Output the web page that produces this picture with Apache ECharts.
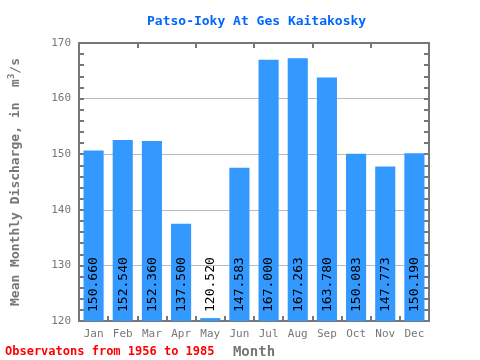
<!DOCTYPE html>
<html><head><meta charset="utf-8">
<script src="https://cdn.jsdelivr.net/npm/echarts@6/dist/echarts.min.js"></script>
<style>html,body{margin:0;padding:0;background:#fff}#c{width:480px;height:360px}</style>
</head><body><div id="c"></div>
<script>
const months = ['Jan','Feb','Mar','Apr','May','Jun','Jul','Aug','Sep','Oct','Nov','Dec'];
const discharge = [150.660,152.540,152.360,137.500,120.520,147.583,167.000,167.263,163.780,150.083,147.773,150.190];
const valueLabels = ['150.660','152.540','152.360','137.500','120.520','147.583','167.000','167.263','163.780','150.083','147.773','150.190'];
const yMin = 120, yMax = 170, yStep = 10;
const titleText = 'Patso-Ioky At Ges Kaitakosky';
const footerText = 'Observatons from 1956 to 1985';

const FONT = 'DejaVu Sans Mono';
const GRAY = '#777';
const chart = echarts.init(document.getElementById('c'), null, {renderer:'canvas'});
const axisLine = {show:true, lineStyle:{color:GRAY, width:2}};
chart.setOption({
  animation:false,
  backgroundColor:'#fff',
  title:{text:titleText, left:142, top:10,
    textStyle:{fontFamily:FONT, fontSize:13, fontWeight:'bold', color:'#0066ff'}},
  graphic:[{type:'text', left:5, top:346,
    style:{text:footerText, font:'bold 12px "'+FONT+'"', fill:'#ff0000'}}],
  grid:{left:79, right:51, top:43, bottom:39, containLabel:false, outerBoundsMode:'none'},
  xAxis:[{
    type:'category', data:months, position:'bottom',
    axisLine:axisLine,
    axisTick:{show:true, inside:true, length:5, lineStyle:{color:GRAY, width:2}},
    axisLabel:{fontFamily:FONT, fontSize:11, color:GRAY, margin:8},
    name:'Month', nameLocation:'middle', nameGap:21,
    nameTextStyle:{fontFamily:FONT, fontSize:14, color:GRAY, fontWeight:'bold'}
  },{
    type:'category', data:months, position:'top',
    axisLine:axisLine,
    axisTick:{show:true, inside:true, length:5, lineStyle:{color:GRAY, width:2}},
    axisLabel:{show:false}
  }],
  yAxis:[{
    type:'value', min:yMin, max:yMax, interval:yStep, position:'left',
    axisLine:axisLine,
    axisTick:{show:true, inside:true, length:5, lineStyle:{color:GRAY, width:2}},
    minorTick:{show:true, splitNumber:5, length:5, lineStyle:{color:GRAY, width:2}},
    axisLabel:{fontFamily:FONT, fontSize:11, color:GRAY, margin:8},
    splitLine:{show:true, lineStyle:{color:'#bbb', width:1}},
    name:'{a|Mean Monthly Discharge, in  m}{s|3}{a|/s}', nameLocation:'middle', nameGap:55,
    nameTextStyle:{rich:{
      a:{fontFamily:FONT, fontSize:13, color:GRAY, fontWeight:'bold'},
      s:{fontFamily:FONT, fontSize:9, color:GRAY, fontWeight:'bold', verticalAlign:'top', padding:[0,0,8,0]}
    }}
  },{
    type:'value', min:yMin, max:yMax, interval:yStep, position:'right',
    axisLine:axisLine,
    axisTick:{show:true, inside:true, length:5, lineStyle:{color:GRAY, width:2}},
    minorTick:{show:true, splitNumber:5, length:5, lineStyle:{color:GRAY, width:2}},
    axisLabel:{show:false}, splitLine:{show:false}
  }],
  series:[{
    type:'bar', data:discharge, barCategoryGap:'31%',
    itemStyle:{color:'#3399ff'},
    label:{show:false}
  },{
    type:'custom',
    data:months.map((m,i)=>[i, discharge[i]]),
    encode:{x:0, y:1},
    z:5,
    renderItem:(params, api)=>{
      const p = api.coord([api.value(0), yMin]);
      return {type:'text', x:p[0]+0.5, y:p[1]-9, rotation:Math.PI/2,
        style:{text:valueLabels[params.dataIndex], font:'13px "'+FONT+'"', fill:'#000',
          align:'left', verticalAlign:'middle'}};
    }
  }]
});
</script></body></html>
